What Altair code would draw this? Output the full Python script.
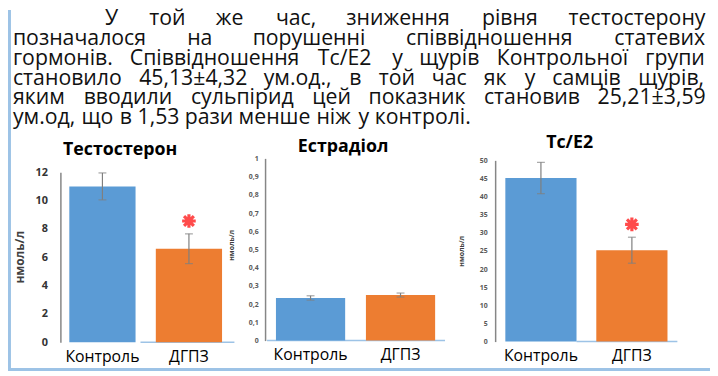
import altair as alt
import pandas as pd

# ---------------- data ----------------
groups = ["Контроль", "ДГПЗ"]

testo_mean = [11.0, 6.6]
testo_err = [0.95, 1.05]
testo_sig = [False, True]

estr_mean = [0.234, 0.25]
estr_err = [0.012, 0.011]
estr_sig = [False, False]

ratio_mean = [45.13, 25.21]
ratio_err = [4.32, 3.59]
ratio_sig = [False, True]

testo_ticks = [0, 2, 4, 6, 8, 10, 12]
estr_ticks = [0, 0.1, 0.2, 0.3, 0.4, 0.5, 0.6, 0.7, 0.8, 0.9, 1.0]
ratio_ticks = [0, 5, 10, 15, 20, 25, 30, 35, 40, 45, 50]

panel_titles = ["Тестостерон", "Естрадіол", "Тс/Е2"]
unit_title = "нмоль/л"

paragraph = [
    "У той же час, зниження рівня тестостерону",
    "позначалося на порушенні співвідношення статевих",
    "гормонів. Співвідношення Тс/Е2 у щурів Контрольної групи",
    "становило 45,13±4,32 ум.од., в той час як у самців щурів,",
    "яким вводили сульпірид цей показник становив 25,21±3,59",
    "ум.од, що в 1,53 рази менше ніж у контролі.",
]

# ---------------- style / layout ----------------
W, H = 710, 368
FONT = "Open Sans"
BLUE, ORANGE = "#5b9bd5", "#ed7d31"
ERR = "#7f7f7f"
AXIS = "#868686"
FRAME = "#9dc3e6"

TEXT_SIZE = 21.5
TEXT_L, TEXT_R, INDENT = 5, 705, 98
BASE0, LEAD = 15.5, 20.0

CW = {" ": 0.26, "а": 0.556, "б": 0.6, "в": 0.58, "г": 0.45, "д": 0.6, "е": 0.56,
      "ж": 0.84, "з": 0.48, "и": 0.63, "й": 0.63, "к": 0.55, "л": 0.6, "м": 0.74,
      "н": 0.62, "о": 0.6, "п": 0.62, "р": 0.61, "с": 0.48, "т": 0.47, "у": 0.5,
      "ф": 0.78, "х": 0.52, "ц": 0.63, "ч": 0.6, "ш": 0.92, "щ": 0.94, "ь": 0.58,
      "ю": 0.86, "я": 0.58, "і": 0.26, "ї": 0.26, ",": 0.25, ".": 0.27, "/": 0.37,
      "±": 0.57}


def word_w(w):
    s = 0.0
    for c in w:
        if c in CW:
            s += CW[c]
        elif c.isdigit():
            s += 0.57
        elif c.isupper():
            s += 0.66
        else:
            s += 0.58
    return s * TEXT_SIZE


rows = []
for i, line in enumerate(paragraph):
    words = line.split(" ")
    left = INDENT if i == 0 else TEXT_L
    widths = [word_w(w) for w in words]
    if i < len(paragraph) - 1:
        gap = (TEXT_R - left - sum(widths)) / (len(words) - 1)
    else:
        gap = 0.26 * TEXT_SIZE
    x = left
    for w, ww in zip(words, widths):
        rows.append({"w": w, "x": x, "y": BASE0 + LEAD * i})
        x += ww + gap
para_df = pd.DataFrame(rows)

para = alt.Chart(para_df).mark_text(
    align="left", baseline="alphabetic", font=FONT, fontSize=TEXT_SIZE, color="#111111"
).encode(
    x=alt.X("x:Q", scale=None, axis=None),
    y=alt.Y("y:Q", scale=None, axis=None),
    text="w:N",
)

dummy = pd.DataFrame({"a": [0]})
frame_left = alt.Chart(dummy).mark_rule(color=FRAME, strokeWidth=3).encode(
    x=alt.value(1.5), y=alt.value(0), y2=alt.value(364))
frame_bottom = alt.Chart(dummy).mark_rule(color=FRAME, strokeWidth=3).encode(
    x=alt.value(0), x2=alt.value(W), y=alt.value(363.5))

STAR = "M0,-1L0,1M-1,0L1,0M-0.72,-0.72L0.72,0.72M-0.72,0.72L0.72,-0.72"


def panel(mean, err, sig, ticks, title, cfg):
    df = pd.DataFrame({
        "group": groups,
        "mean": mean,
        "lo": [m - e for m, e in zip(mean, err)],
        "hi": [m + e for m, e in zip(mean, err)],
        "sig": sig,
    })
    base = alt.Chart(df)
    x_main = alt.X(
        "group:N", sort=groups, title=None,
        scale=alt.Scale(range=cfg["xr"], paddingInner=cfg["pi"], paddingOuter=cfg["po"]),
        axis=alt.Axis(orient="bottom", offset=cfg["y0"] - H, domain=False, ticks=False,
                      labelAngle=0, labelFont=FONT, labelFontSize=16, labelColor="#000000",
                      labelPadding=6, labelOverlap=False, title=None),
    )
    y_axis = dict(orient="left", offset=-cfg["ax"], values=ticks, grid=False, ticks=False,
                  domainColor=AXIS, domainWidth=1.5, labelFont=FONT,
                  labelFontSize=cfg["lfs"], labelFontWeight="bold", labelColor=cfg["lc"],
                  labelPadding=cfg["lp"], labelOverlap=False, labelFlush=False,
                  tickCount=len(ticks), title=None)
    if cfg.get("comma"):
        y_axis["labelExpr"] = "replace(format(datum.value, '.1~f'), '.', ',')"
    y_main = alt.Y(
        "mean:Q", title=None,
        scale=alt.Scale(domain=[0, ticks[-1]], range=[cfg["y0"], cfg["y1"]], nice=False),
        axis=alt.Axis(**y_axis),
    )
    xg = alt.X("group:N", sort=groups, title=None)
    bars = base.mark_bar().encode(
        x=x_main, y=y_main,
        color=alt.Color("group:N", sort=groups, legend=None,
                        scale=alt.Scale(domain=groups, range=[BLUE, ORANGE])),
    )
    baseline = alt.Chart(dummy).mark_rule(color=FRAME, strokeWidth=1.5).encode(
        x=alt.value(cfg["bl"][0]), x2=alt.value(cfg["bl"][1]), y=alt.datum(0))
    rule = base.mark_rule(color=ERR, strokeWidth=1.2).encode(
        x=xg, y=alt.Y("lo:Q", title=None), y2="hi:Q")
    cap_lo = base.mark_tick(color=ERR, size=8, thickness=1.2).encode(
        x=xg, y=alt.Y("lo:Q", title=None))
    cap_hi = base.mark_tick(color=ERR, size=8, thickness=1.2).encode(
        x=xg, y=alt.Y("hi:Q", title=None))
    star = base.transform_filter("datum.sig").mark_point(
        shape=STAR, size=190, filled=False, color="#ff0000", strokeWidth=3.2, yOffset=-13
    ).encode(x=xg, y=alt.Y("hi:Q", title=None))
    ttl = alt.Chart(pd.DataFrame({"t": [title]})).mark_text(
        font=FONT, fontSize=18, fontWeight="bold", color="#000000", baseline="alphabetic"
    ).encode(text="t:N", x=alt.value(cfg["tx"]), y=alt.value(cfg["ty"]))
    ytl = alt.Chart(pd.DataFrame({"t": [unit_title]})).mark_text(
        font=FONT, fontSize=cfg["utfs"], fontWeight="bold", color="#404040", angle=270,
        baseline="middle"
    ).encode(text="t:N", x=alt.value(cfg["ut"][0]), y=alt.value(cfg["ut"][1]))
    return alt.layer(baseline, bars, rule, cap_lo, cap_hi, star, ttl, ytl)


p1 = panel(testo_mean, testo_err, testo_sig, testo_ticks, panel_titles[0], dict(
    xr=[53, 225.5], pi=0.2343, po=0.103, ax=53, y0=336, y1=164, lfs=11, lc="#333333",
    lp=13, bl=[134, 229], tx=113.5, ty=147, ut=(12, 250), utfs=12))
p2 = panel(estr_mean, estr_err, estr_sig, estr_ticks, panel_titles[1], dict(
    xr=[260, 443], pi=0.2308, po=0.1209, ax=260, y0=334.3, y1=150, lfs=7, lc="#595959",
    lp=7, bl=[262, 442], tx=339, ty=143.7, ut=(227, 238), utfs=7, comma=True))
p3 = panel(ratio_mean, ratio_err, ratio_sig, ratio_ticks, panel_titles[2], dict(
    xr=[492.7, 677.3], pi=0.2174, po=0.112, ax=492.7, y0=335.3, y1=152, lfs=7, lc="#595959",
    lp=8, bl=[575, 677], tx=568, ty=140, ut=(459, 244), utfs=7))

chart = alt.layer(frame_left, frame_bottom, para, p1, p2, p3).resolve_scale(
    x="independent", y="independent"
).properties(
    width=W, height=H, autosize=alt.AutoSizeParams(type="none"), padding=0
).configure_view(stroke=None).configure_axis(labelOverlap=False)

chart.save("out.html", embed_options={"renderer": "svg", "actions": False})
